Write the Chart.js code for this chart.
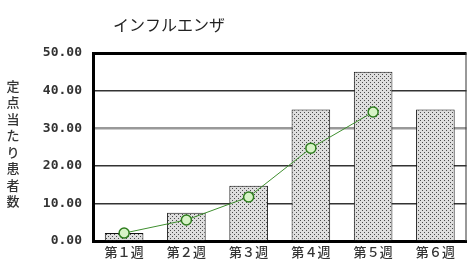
<!DOCTYPE html>
<html>
<head>
<meta charset="utf-8">
<script src="https://cdn.jsdelivr.net/npm/chart.js@4.4.1/dist/chart.umd.min.js"></script>
<style>
  html, body { margin: 0; padding: 0; background: #fff; overflow: hidden; }
  #wrap { width: 473px; height: 260px; }
</style>
</head>
<body>
<div id="wrap"><canvas id="fluChart" width="473" height="260"></canvas></div>
<script>
const weeks = ['第１週', '第２週', '第３週', '第４週', '第５週', '第６週'];
const barValues = [2.1, 7.5, 14.7, 35, 45, 35];
const lineValues = [2.1, 5.6, 11.7, 24.7, 34.3, null];
const yTicks = [0, 10, 20, 30, 40, 50];
const chartTitle = 'インフルエンザ';
const yTitle = '定点当たり患者数';

// stipple pattern for the bars
const tile = document.createElement('canvas');
tile.width = 4; tile.height = 4;
const tctx = tile.getContext('2d');
tctx.fillStyle = '#dedede';
tctx.fillRect(0, 0, 4, 4);
tctx.fillStyle = '#4a4a4a';
tctx.fillRect(0, 0, 1, 1);
tctx.fillRect(2, 2, 1, 1);
const ctx = document.getElementById('fluChart').getContext('2d');
const dots = ctx.createPattern(tile, 'repeat');

// title, vertical axis title and right border
const extras = {
    id: 'extras',
    afterDraw(chart) {
        const c = chart.ctx;
        const area = chart.chartArea;
        c.save();
        c.fillStyle = '#222';
        c.textAlign = 'center';
        c.textBaseline = 'middle';
        c.font = '16px "Noto Sans CJK JP"';
        c.fillText(chartTitle, 169, 25);
        c.font = '500 13px "Noto Sans CJK JP"';
        c.fillStyle = '#333';
        [...yTitle].forEach((ch, i) => c.fillText(ch, 13, 86 + i * 16.5));
        c.strokeStyle = '#333';
        c.lineWidth = 1;
        c.beginPath();
        c.moveTo(area.right - 0.5, area.top);
        c.lineTo(area.right - 0.5, area.bottom);
        c.stroke();
        c.restore();
    }
};

new Chart(ctx, {
    data: {
        labels: weeks,
        datasets: [{
            type: 'line',
            data: lineValues,
            borderColor: '#3f8f2f',
            borderWidth: 1,
            pointRadius: 5,
            pointBackgroundColor: '#d6f3c6',
            pointBorderColor: '#2e7d1e',
            pointBorderWidth: 1.5,
            order: 0
        }, {
            type: 'bar',
            data: barValues,
            backgroundColor: dots,
            borderColor: '#111',
            borderWidth: 1,
            categoryPercentage: 1,
            barPercentage: 0.62,
            order: 1
        }]
    },
    options: {
        responsive: false,
        animation: false,
        layout: { padding: { top: 53, right: 1, left: 0, bottom: 0 } },
        plugins: {
            legend: { display: false },
            tooltip: { enabled: false }
        },
        scales: {
            x: {
                grid: { display: false },
                border: { color: '#000', width: 3 },
                ticks: {
                    color: '#333',
                    font: { family: '"Noto Sans CJK JP"', size: 13, weight: '500' },
                    padding: -5,
                    maxRotation: 0
                },
                afterFit: s => { s.height = 19; }
            },
            y: {
                min: 0,
                max: 50,
                afterBuildTicks: s => { s.ticks = yTicks.map(v => ({ value: v })); },
                grid: {
                    drawTicks: false,
                    color: t => t.tick.value === 30 ? '#999' : (t.tick.value === 50 ? '#000' : '#333'),
                    lineWidth: t => t.tick.value === 30 ? 2.5 : (t.tick.value === 50 ? 3 : 1.5)
                },
                border: { color: '#000', width: 3 },
                ticks: {
                    color: '#333',
                    padding: 11,
                    font: { family: '"DejaVu Sans Mono"', size: 13, weight: 'bold' },
                    callback: v => v.toFixed(2)
                },
                afterFit: s => { s.width = 93; }
            }
        }
    },
    plugins: [extras]
});
</script>
</body>
</html>
